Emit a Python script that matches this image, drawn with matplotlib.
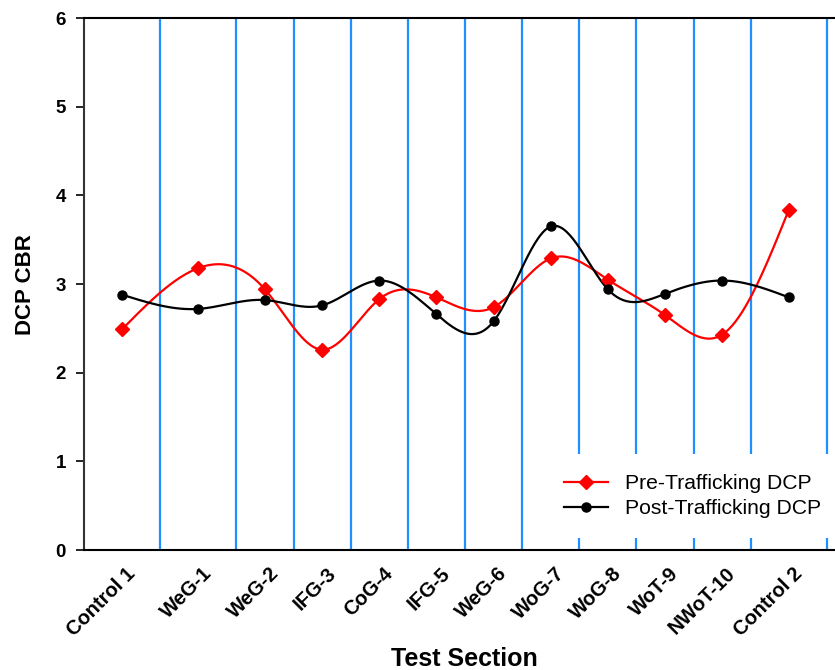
import numpy as np
import matplotlib
matplotlib.use("Agg")
import matplotlib.pyplot as plt
from matplotlib.lines import Line2D

plt.rcParams["font.family"] = ["Liberation Sans", "DejaVu Sans"]

sections = ["Control 1", "WeG-1", "WeG-2", "IFG-3", "CoG-4", "IFG-5", "WeG-6",
            "WoG-7", "WoG-8", "WoT-9", "NWoT-10", "Control 2"]
section_len = [40, 40, 30, 30, 30, 30, 30, 30, 30, 30, 30, 40]
pre_cbr = [2.49, 3.18, 2.94, 2.26, 2.83, 2.85, 2.74, 3.29, 3.05, 2.65, 2.43, 3.84]
post_cbr = [2.88, 2.72, 2.82, 2.76, 3.04, 2.66, 2.58, 3.65, 2.94, 2.89, 3.04, 2.85]


def natural_spline(x, y, n=400):
    x = np.asarray(x, float)
    y = np.asarray(y, float)
    m = len(x)
    h = np.diff(x)
    A = np.zeros((m, m))
    r = np.zeros(m)
    A[0, 0] = A[-1, -1] = 1.0
    for i in range(1, m - 1):
        A[i, i - 1] = h[i - 1]
        A[i, i] = 2 * (h[i - 1] + h[i])
        A[i, i + 1] = h[i]
        r[i] = 6 * ((y[i + 1] - y[i]) / h[i] - (y[i] - y[i - 1]) / h[i - 1])
    M = np.linalg.solve(A, r)
    xs = np.linspace(x[0], x[-1], n)
    k = np.clip(np.searchsorted(x, xs) - 1, 0, m - 2)
    t0 = x[k + 1] - xs
    t1 = xs - x[k]
    hk = h[k]
    ys = (M[k] * t0 ** 3 + M[k + 1] * t1 ** 3) / (6 * hk) \
        + (y[k] / hk - M[k] * hk / 6) * t0 + (y[k + 1] / hk - M[k + 1] * hk / 6) * t1
    return xs, ys


edges = np.concatenate([[0], np.cumsum(section_len)])
centers = (edges[:-1] + edges[1:]) / 2

fig = plt.figure(figsize=(8.35, 6.7), dpi=100)
ax = fig.add_axes([0.1006, 0.179, 0.8994, 0.794])

# section boundaries
for e in edges[1:]:
    ax.axvline(e, color="#1E90FF", lw=1.6, zorder=1)

xs, ys = natural_spline(centers, pre_cbr)
ax.plot(xs, ys, color="red", lw=1.6, zorder=3)
ax.plot(centers, pre_cbr, ls="none", marker="D", ms=7.5, color="red", zorder=4)
xs, ys = natural_spline(centers, post_cbr)
ax.plot(xs, ys, color="black", lw=1.6, zorder=3)
ax.plot(centers, post_cbr, ls="none", marker="o", ms=6.5, color="black", zorder=4)

ax.set_xlim(0, edges[-1] + 4.2)
ax.set_ylim(0, 6)
ax.set_yticks(range(0, 7))
ax.set_xticks(centers + 2)
ax.set_xticklabels(sections, rotation=45, ha="right", va="top",
                   rotation_mode="anchor", fontweight="bold", fontsize=14.5)
for lbl in ax.get_yticklabels():
    lbl.set_fontweight("bold")
ax.tick_params(axis="y", direction="out", length=6, width=1.2, labelsize=13.5, pad=7)
ax.tick_params(axis="x", length=0, pad=10)

ax.spines["right"].set_visible(False)
ax.spines["left"].set_color("#333333")
ax.spines["left"].set_linewidth(1.5)
ax.spines["bottom"].set_linewidth(1.5)
ax.spines["top"].set_linewidth(1.5)

fig.text(0.556, 0.006, "Test Section", fontsize=18, fontweight="bold",
         ha="center", va="baseline")
ax.set_ylabel("DCP CBR", fontsize=16, fontweight="bold", labelpad=14)

handles = [
    Line2D([], [], color="red", lw=1.6, marker="D", ms=7.5, label="Pre-Trafficking DCP"),
    Line2D([], [], color="black", lw=1.6, marker="o", ms=6.5, label="Post-Trafficking DCP"),
]
leg = ax.legend(handles=handles, loc="lower right", bbox_to_anchor=(1.008, 0.022),
                fontsize=15.2, frameon=True, fancybox=False, framealpha=1,
                edgecolor="none", facecolor="white", handlelength=2.1,
                labelspacing=0.3, borderpad=0.95, borderaxespad=0)
leg.set_zorder(5)

fig.savefig("out.png", dpi=100)
